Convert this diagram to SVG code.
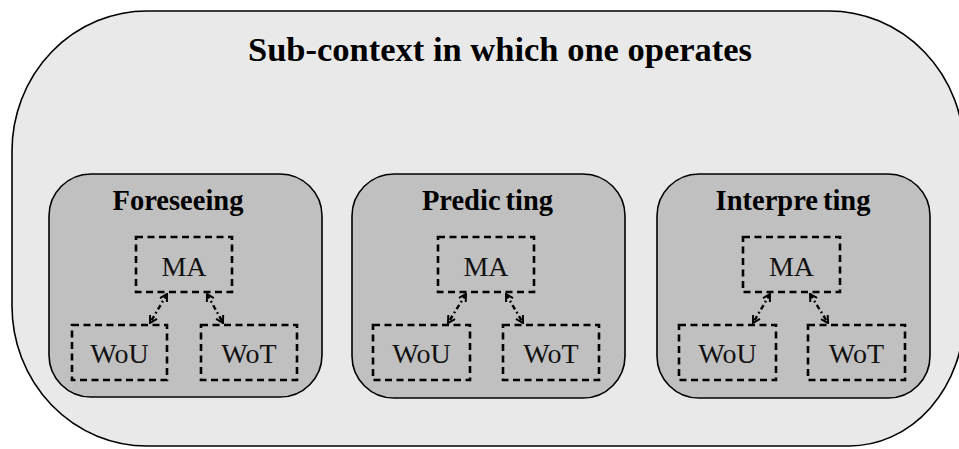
<svg xmlns="http://www.w3.org/2000/svg" width="959" height="449" viewBox="0 0 959 449">
<style>
.outer{fill:#e9e9e9;stroke:#000;stroke-width:1.6}
.panel{fill:#c0c0c0;stroke:#000;stroke-width:1.6}
.dbox{fill:none;stroke:#000;stroke-width:2.6;stroke-dasharray:7 4.5}
.title{font-family:"Liberation Serif","Times New Roman",serif;font-weight:bold;font-size:34.5px;text-anchor:middle;fill:#000}
.ptitle{font-family:"Liberation Serif","Times New Roman",serif;font-weight:bold;font-size:28.5px;text-anchor:middle;fill:#000}
.lbl{font-family:"Liberation Serif","Times New Roman",serif;font-size:28px;text-anchor:middle;fill:#111}
.conn{fill:none;stroke:#000;stroke-width:2.4;stroke-dasharray:5 3 1.8 3;marker-start:url(#arr);marker-end:url(#arr)}
</style>
<defs>
<marker id="arr" viewBox="0 0 10 10" refX="9" refY="5" markerWidth="10" markerHeight="10" markerUnits="userSpaceOnUse" orient="auto-start-reverse">
<path d="M2,1 L9,5 L2,9" fill="none" stroke="#000" stroke-width="2"/>
</marker>
</defs>
<g id="context">
<path class="outer" d="M147,11 H829 A135 140 0 0 1 964 151 V316 A115 130 0 0 1 849 446 H147 A135 140 0 0 1 12 306 V151 A135 140 0 0 1 147 11 Z"/>
<text class="title" x="500" y="61">Sub-context in which one operates</text>
</g>
<g id="foreseeing">
<rect class="panel" x="49" y="174" width="273" height="223" rx="42" ry="42"/>
<text class="ptitle" x="178" y="210">Foreseeing</text>
</g>
<g id="foreseeing-ma"><rect class="dbox" x="136" y="237" width="96" height="55"/><text class="lbl" x="184" y="276">MA</text></g>
<g id="foreseeing-wou"><rect class="dbox" x="72" y="325" width="95" height="55"/><text class="lbl" x="119.5" y="363">WoU</text></g>
<g id="foreseeing-wot"><rect class="dbox" x="201" y="325" width="96" height="55"/><text class="lbl" x="249" y="363">WoT</text></g>
<g id="predicting">
<rect class="panel" x="352" y="174" width="273" height="224" rx="42" ry="42"/>
<text class="ptitle" x="487.5" y="210"><tspan>Predic</tspan><tspan dx="5">ting</tspan></text>
</g>
<g id="predicting-ma"><rect class="dbox" x="438" y="237" width="96" height="55"/><text class="lbl" x="486" y="276">MA</text></g>
<g id="predicting-wou"><rect class="dbox" x="373" y="325" width="97" height="55"/><text class="lbl" x="421.5" y="363">WoU</text></g>
<g id="predicting-wot"><rect class="dbox" x="503" y="325" width="96" height="55"/><text class="lbl" x="551" y="363">WoT</text></g>
<g id="interpreting">
<rect class="panel" x="657" y="174" width="273" height="224" rx="42" ry="42"/>
<text class="ptitle" x="793" y="210"><tspan>Interpre</tspan><tspan dx="5">ting</tspan></text>
</g>
<g id="interpreting-ma"><rect class="dbox" x="743" y="237" width="97" height="55"/><text class="lbl" x="791.5" y="276">MA</text></g>
<g id="interpreting-wou"><rect class="dbox" x="679" y="325" width="97" height="55"/><text class="lbl" x="727.5" y="363">WoU</text></g>
<g id="interpreting-wot"><rect class="dbox" x="808" y="325" width="97" height="55"/><text class="lbl" x="856.5" y="363">WoT</text></g>
<g id="connectors">
<line class="conn" x1="167" y1="294" x2="150" y2="323"/>
<line class="conn" x1="207" y1="294" x2="223" y2="323"/>
<line class="conn" x1="466" y1="294" x2="448" y2="323"/>
<line class="conn" x1="506" y1="294" x2="523" y2="323"/>
<line class="conn" x1="770" y1="294" x2="753" y2="323"/>
<line class="conn" x1="810" y1="294" x2="828" y2="323"/>
</g>
</svg>
